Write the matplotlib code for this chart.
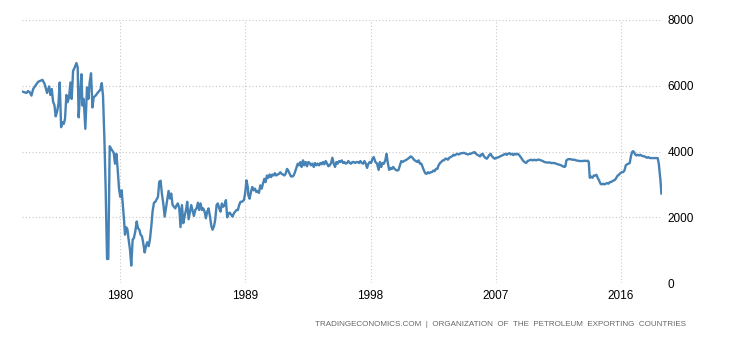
import matplotlib
matplotlib.use("Agg")
import matplotlib.pyplot as plt

# Iran crude oil production (BBL/D/1K)
years = [
    1973.0, 1973.16, 1973.28, 1973.4, 1973.52, 1973.64, 1973.76, 1973.95, 1974.12, 1974.28,
    1974.43, 1974.59, 1974.76, 1974.91, 1975.0, 1975.1, 1975.19, 1975.29, 1975.38, 1975.48,
    1975.58, 1975.67, 1975.77, 1975.86, 1975.96, 1976.05, 1976.15, 1976.24, 1976.34, 1976.44,
    1976.53, 1976.63, 1976.75, 1976.87, 1976.96, 1977.03, 1977.13, 1977.23, 1977.3, 1977.39,
    1977.51, 1977.63, 1977.73, 1977.82, 1977.92, 1978.02, 1978.11, 1978.25, 1978.42, 1978.59,
    1978.69, 1978.78, 1978.88, 1978.97, 1979.07, 1979.16, 1979.26, 1979.4, 1979.55, 1979.64,
    1979.74, 1979.83, 1979.93, 1980.02, 1980.12, 1980.29, 1980.36, 1980.43, 1980.53, 1980.62,
    1980.72, 1980.81, 1980.91, 1981.0, 1981.1, 1981.2, 1981.29, 1981.39, 1981.48, 1981.58,
    1981.67, 1981.77, 1981.87, 1981.96, 1982.06, 1982.15, 1982.25, 1982.34, 1982.44, 1982.54,
    1982.63, 1982.73, 1982.82, 1982.92, 1983.01, 1983.11, 1983.21, 1983.3, 1983.4, 1983.49,
    1983.59, 1983.68, 1983.78, 1983.88, 1983.97, 1984.07, 1984.16, 1984.26, 1984.35, 1984.45,
    1984.55, 1984.64, 1984.74, 1984.83, 1984.93, 1985.02, 1985.12, 1985.22, 1985.31, 1985.41,
    1985.5, 1985.6, 1985.69, 1985.79, 1985.89, 1985.98, 1986.08, 1986.17, 1986.27, 1986.36,
    1986.46, 1986.56, 1986.65, 1986.75, 1986.84, 1986.94, 1987.03, 1987.13, 1987.22, 1987.32,
    1987.42, 1987.51, 1987.61, 1987.7, 1987.8, 1987.89, 1987.99, 1988.09, 1988.18, 1988.28,
    1988.37, 1988.47, 1988.56, 1988.66, 1988.76, 1988.9, 1988.99, 1989.09, 1989.19, 1989.22,
    1989.31, 1989.41, 1989.5, 1989.6, 1989.7, 1989.79, 1989.89, 1989.98, 1990.08, 1990.18,
    1990.27, 1990.37, 1990.46, 1990.56, 1990.65, 1990.75, 1990.85, 1990.94, 1991.04, 1991.13,
    1991.23, 1991.33, 1991.42, 1991.52, 1991.61, 1991.71, 1991.81, 1991.9, 1992.0, 1992.09,
    1992.19, 1992.29, 1992.38, 1992.48, 1992.57, 1992.67, 1992.77, 1992.86, 1992.96, 1993.05,
    1993.15, 1993.24, 1993.34, 1993.44, 1993.53, 1993.63, 1993.72, 1993.82, 1993.92, 1994.01,
    1994.11, 1994.2, 1994.3, 1994.4, 1994.49, 1994.59, 1994.68, 1994.78, 1994.88, 1994.97,
    1995.07, 1995.16, 1995.26, 1995.35, 1995.45, 1995.55, 1995.64, 1995.74, 1995.83, 1995.93,
    1996.03, 1996.12, 1996.22, 1996.31, 1996.41, 1996.51, 1996.6, 1996.7, 1996.79, 1996.89,
    1996.99, 1997.08, 1997.18, 1997.27, 1997.37, 1997.47, 1997.56, 1997.66, 1997.75, 1997.85,
    1997.94, 1998.04, 1998.14, 1998.23, 1998.35, 1998.47, 1998.58, 1998.67, 1998.77, 1998.86,
    1998.96, 1999.06, 1999.15, 1999.25, 1999.34, 1999.44, 1999.53, 1999.63, 1999.73, 1999.82,
    1999.92, 2000.01, 2000.11, 2000.21, 2000.3, 2000.4, 2000.49, 2000.59, 2000.69, 2000.78,
    2000.88, 2000.97, 2001.07, 2001.17, 2001.26, 2001.36, 2001.45, 2001.55, 2001.65, 2001.74,
    2001.84, 2001.93, 2002.03, 2002.12, 2002.22, 2002.32, 2002.41, 2002.51, 2002.6, 2002.7,
    2002.8, 2002.89, 2002.99, 2003.08, 2003.18, 2003.28, 2003.37, 2003.47, 2003.56, 2003.66,
    2003.76, 2003.85, 2003.95, 2004.04, 2004.14, 2004.24, 2004.33, 2004.43, 2004.52, 2004.62,
    2004.71, 2004.81, 2004.91, 2005.0, 2005.1, 2005.19, 2005.29, 2005.39, 2005.48, 2005.58,
    2005.67, 2005.77, 2005.87, 2005.96, 2006.06, 2006.15, 2006.25, 2006.35, 2006.44, 2006.54,
    2006.63, 2006.73, 2006.83, 2006.92, 2007.02, 2007.11, 2007.21, 2007.3, 2007.4, 2007.5,
    2007.59, 2007.69, 2007.78, 2007.88, 2007.98, 2008.07, 2008.17, 2008.26, 2008.36, 2008.46,
    2008.58, 2008.7, 2008.82, 2008.94, 2009.06, 2009.18, 2009.29, 2009.41, 2009.53, 2009.65,
    2009.77, 2009.89, 2010.01, 2010.13, 2010.25, 2010.37, 2010.49, 2010.61, 2010.73, 2010.85,
    2010.97, 2011.09, 2011.21, 2011.33, 2011.45, 2011.57, 2011.69, 2011.81, 2011.93, 2012.0,
    2012.07, 2012.17, 2012.29, 2012.41, 2012.53, 2012.65, 2012.77, 2012.89, 2013.01, 2013.13,
    2013.25, 2013.37, 2013.49, 2013.61, 2013.68, 2013.75, 2013.84, 2013.94, 2014.04, 2014.13,
    2014.23, 2014.32, 2014.42, 2014.52, 2014.61, 2014.71, 2014.8, 2014.9, 2014.99, 2015.09,
    2015.19, 2015.28, 2015.38, 2015.47, 2015.57, 2015.66, 2015.76, 2015.86, 2015.95, 2016.05,
    2016.14, 2016.24, 2016.34, 2016.43, 2016.53, 2016.62, 2016.72, 2016.79, 2016.86, 2016.93,
    2017.01, 2017.1, 2017.2, 2017.29, 2017.39, 2017.48, 2017.58, 2017.68, 2017.77, 2017.87,
    2017.96, 2018.06, 2018.16, 2018.25, 2018.35, 2018.44, 2018.54, 2018.63, 2018.71, 2018.83,
    2018.9,
]
production = [
    5820, 5800, 5780, 5840, 5800, 5700, 5900, 6020, 6120, 6150,
    6180, 6050, 5780, 5980, 5720, 5900, 5520, 5410, 5070, 5210,
    5450, 6100, 4740, 4890, 4840, 4990, 5720, 5500, 5650, 6100,
    5600, 6450, 6560, 6690, 6560, 5040, 5750, 6350, 5400, 5600,
    4690, 5950, 5600, 6100, 6380, 5340, 5650, 5700, 5800, 5880,
    6080, 5700, 4380, 2870, 730, 730, 4160, 4060, 3960, 3630,
    3930, 3480, 2870, 2620, 2820, 1920, 1470, 1700, 1640, 1320,
    1010, 530, 1320, 1370, 1570, 1870, 1670, 1620, 1470, 1420,
    1220, 930, 1120, 1240, 1120, 1320, 1720, 2170, 2440, 2470,
    2540, 2620, 3080, 3110, 2720, 2420, 2020, 2270, 2570, 2800,
    2570, 2720, 2370, 2320, 2270, 2370, 2420, 2270, 1700, 2370,
    1820, 2020, 2220, 2470, 1940, 2140, 2370, 2200, 2040, 2220,
    2270, 2440, 2220, 2420, 2220, 2270, 2170, 1970, 2170, 2270,
    2040, 1740, 1620, 1720, 1920, 2370, 2420, 2270, 2170, 2420,
    2320, 2370, 2520, 2000, 2120, 2140, 2070, 2020, 2120, 2170,
    2220, 2220, 2370, 2470, 2470, 2520, 2720, 3120, 2900, 2670,
    2565, 2770, 2920, 2820, 2870, 2770, 2800, 2740, 2970, 2870,
    3020, 3170, 3070, 3270, 3200, 3300, 3220, 3300, 3270, 3340,
    3270, 3300, 3320, 3370, 3320, 3300, 3270, 3320, 3470, 3420,
    3320, 3240, 3240, 3270, 3370, 3500, 3630, 3580, 3680, 3530,
    3730, 3580, 3680, 3550, 3680, 3650, 3580, 3630, 3530, 3650,
    3580, 3630, 3580, 3650, 3610, 3680, 3610, 3710, 3630, 3550,
    3580, 3650, 3810, 3630, 3530, 3680, 3630, 3710, 3680, 3730,
    3650, 3680, 3630, 3650, 3710, 3650, 3630, 3680, 3680, 3650,
    3680, 3680, 3650, 3710, 3650, 3630, 3710, 3630, 3500, 3630,
    3680, 3650, 3780, 3830, 3680, 3630, 3440, 3680, 3530, 3650,
    3630, 3730, 3930, 3630, 3440, 3500, 3470, 3530, 3470, 3440,
    3420, 3440, 3580, 3710, 3680, 3710, 3730, 3750, 3780, 3810,
    3850, 3830, 3780, 3730, 3710, 3680, 3730, 3630, 3630, 3530,
    3420, 3340, 3320, 3370, 3340, 3370, 3370, 3420, 3400, 3470,
    3470, 3580, 3650, 3680, 3730, 3730, 3780, 3780, 3750, 3810,
    3830, 3850, 3900, 3880, 3910, 3930, 3910, 3930, 3950, 3950,
    3960, 3940, 3920, 3910, 3930, 3930, 3950, 3970, 3980, 3930,
    3900, 3880, 3850, 3910, 3930, 3850, 3810, 3780, 3830, 3900,
    3930, 3850, 3810, 3780, 3810, 3810, 3830, 3850, 3870, 3890,
    3910, 3930, 3900, 3930, 3950, 3910, 3930, 3890, 3930, 3910,
    3930, 3880, 3810, 3730, 3680, 3650, 3710, 3730, 3750, 3730,
    3750, 3730, 3750, 3750, 3730, 3710, 3680, 3670, 3660, 3670,
    3650, 3650, 3650, 3630, 3610, 3600, 3580, 3550, 3530, 3550,
    3730, 3760, 3770, 3760, 3750, 3750, 3730, 3720, 3710, 3710,
    3710, 3720, 3710, 3720, 3680, 3200, 3240, 3200, 3270, 3270,
    3290, 3200, 3120, 3020, 3000, 3020, 3000, 3020, 3040, 3020,
    3070, 3070, 3100, 3120, 3140, 3200, 3270, 3300, 3340, 3370,
    3370, 3420, 3580, 3610, 3630, 3650, 3880, 3980, 4010, 3980,
    3910, 3880, 3900, 3880, 3900, 3870, 3860, 3850, 3830, 3810,
    3830, 3800, 3800, 3800, 3800, 3800, 3800, 3800, 3630, 3120,
    2720,
]
tick_years = [1980, 1989, 1998, 2007, 2016]
y_ticks = [0, 2000, 4000, 6000, 8000]
source = "TRADINGECONOMICS.COM  |  ORGANIZATION  OF  THE  PETROLEUM  EXPORTING  COUNTRIES"

plt.rcParams['font.family'] = ['Liberation Sans', 'DejaVu Sans']

fig = plt.figure(figsize=(7.3, 3.4), dpi=100)
ax = fig.add_axes([22 / 730, 1 - 283 / 340, 640 / 730, 263 / 340])

ax.plot(years, production, color='#4682b4', linewidth=1.7, solid_joinstyle='round')

ax.set_xlim(1972.96, 2018.94)
ax.set_ylim(0, 8000)
ax.set_xticks(tick_years)
ax.set_yticks(y_ticks)
ax.grid(True, color='#c8c8c8', linestyle=(0, (1, 2)), linewidth=0.8)
for s in ax.spines.values():
    s.set_visible(False)

ax.yaxis.tick_right()
ax.tick_params(axis='both', length=0, labelsize=8.5, colors='black')
ax.tick_params(axis='y', pad=4)
ax.tick_params(axis='x', pad=5)

fig.text(686 / 730, 1 - 324 / 340, source, ha='right', va='center',
         fontsize=5.8, color='#666666')

fig.savefig('out.png', dpi=100)
